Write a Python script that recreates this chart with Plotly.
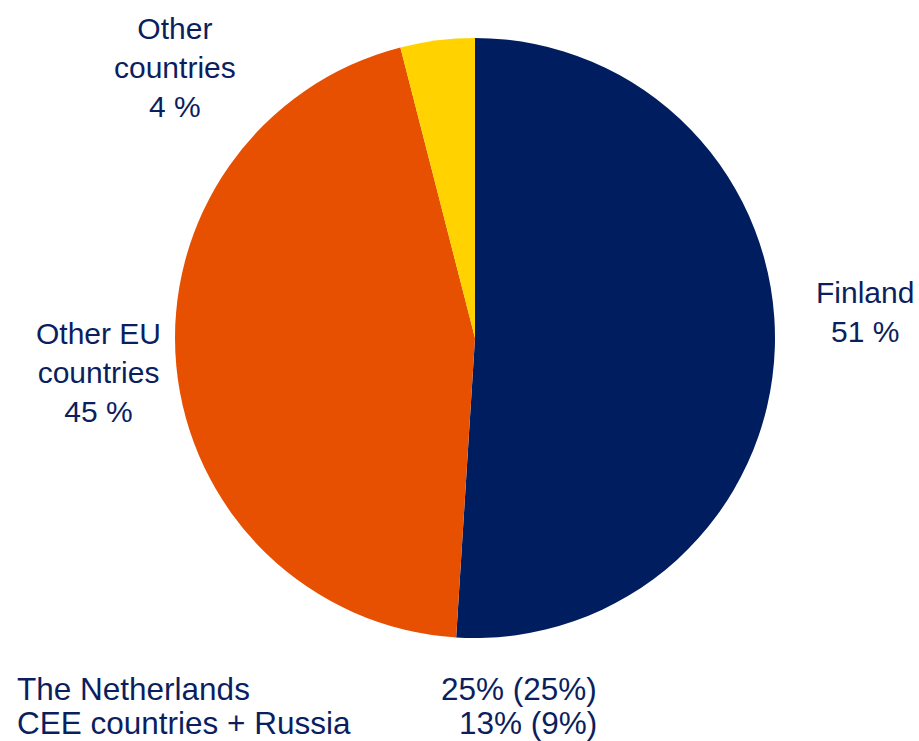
import plotly.graph_objects as go

categories = ["Finland", "Other EU countries", "Other countries"]
values = [51, 45, 4]
colors = ["#001E5F", "#E65000", "#FFD200"]
label_text = ["Finland", "Other EU<br>countries", "Other<br>countries"]

detail_names = ["The Netherlands", "CEE countries + Russia"]
detail_values = ["25% (25%)", "13% (9%)"]

TXT = "#0B1F5E"
FONT = "Liberation Sans, Arial, sans-serif"
W, H = 919, 741

fig = go.Figure(go.Pie(
    labels=categories, values=values, sort=False, direction="clockwise",
    rotation=0, marker=dict(colors=colors, line=dict(width=0)),
    textinfo="none", hoverinfo="label+percent", showlegend=False,
    domain=dict(x=[175 / W, 775 / W], y=[1 - 638 / H, 1 - 38 / H]),
))

label_pos = [(865, 312), (98, 372), (175, 68)]
for name, v, (px, py) in zip(label_text, values, label_pos):
    fig.add_annotation(
        x=px / W, y=1 - py / H, xref="paper", yref="paper",
        text=f"{name}<br>{v} %", showarrow=False, xanchor="center", yanchor="middle",
        align="center", font=dict(family=FONT, size=30, color=TXT),
    )

for i, (n, v) in enumerate(zip(detail_names, detail_values)):
    yy = 689 + 34 * i
    fig.add_annotation(x=15 / W, y=1 - yy / H, xref="paper", yref="paper", text=n,
                       showarrow=False, xanchor="left", yanchor="middle",
                       font=dict(family=FONT, size=31.5, color=TXT))
    fig.add_annotation(x=599 / W, y=1 - yy / H, xref="paper", yref="paper", text=v,
                       showarrow=False, xanchor="right", yanchor="middle",
                       font=dict(family=FONT, size=31.5, color=TXT))

fig.update_layout(width=W, height=H, margin=dict(l=0, r=0, t=0, b=0),
                  paper_bgcolor="white", plot_bgcolor="white")
fig.write_html("out.html", config={"displayModeBar": False},
               post_script="document.body.style.margin='0';document.body.style.overflow='hidden';")
